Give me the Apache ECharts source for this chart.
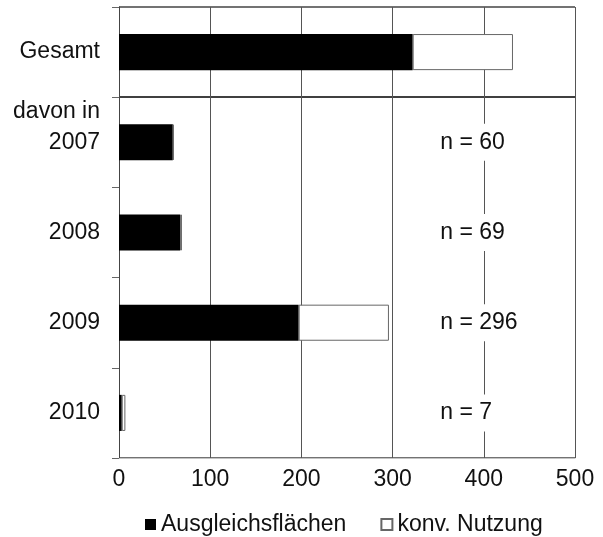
<!DOCTYPE html>
<html>
<head>
<meta charset="utf-8">
<script src="https://cdn.jsdelivr.net/npm/echarts@6/dist/echarts.min.js"></script>
<style>html,body{margin:0;padding:0;background:#fff}#c{width:603px;height:537px}</style>
</head>
<body>
<div id="c"></div>
<script>
const categories = ['Gesamt', '2007', '2008', '2009', '2010'];
const ausgleich = [322, 59, 67, 197, 3];
const konv = [110, 1, 2, 99, 4];
const nLabels = ['', 'n = 60', 'n = 69', 'n = 296', 'n = 7'];
const nLabelX = 350;
const xTicks = { min: 0, max: 500, interval: 100 };
const seriesNames = ['Ausgleichsflächen', 'konv. Nutzung'];

const FONT = 'Liberation Sans, Arial, sans-serif';
const FS = 23;
const chart = echarts.init(document.getElementById('c'), null, { renderer: 'canvas' });
chart.setOption({
  animation: false,
  backgroundColor: '#fff',
  textStyle: { fontFamily: FONT },
  grid: { left: 119, right: 28, top: 7, bottom: 79 },
  xAxis: {
    type: 'value', min: xTicks.min, max: xTicks.max, interval: xTicks.interval,
    axisLine: { show: true, lineStyle: { color: '#c4c4c4', width: 1 } },
    axisTick: { show: false },
    axisLabel: { fontSize: FS, color: '#111', margin: 10, fontFamily: FONT },
    splitLine: { show: true, lineStyle: { color: '#555', width: 1 } }
  },
  yAxis: {
    type: 'category', data: categories, inverse: true,
    axisLine: { show: true, lineStyle: { color: '#444', width: 1 } },
    axisTick: { show: true, length: 7, lineStyle: { color: '#666' } },
    axisLabel: { fontSize: FS, color: '#111', margin: 19, fontFamily: FONT },
    splitLine: { show: true, interval: function (i) { return i <= 1; },
      lineStyle: { color: ['#444', '#000'], width: 1.5 } }
  },
  legend: {
    left: 145, top: 513, padding: 0,
    itemWidth: 11, itemHeight: 11, itemGap: 34, icon: 'rect',
    textStyle: { fontSize: FS, color: '#111', fontFamily: FONT },
    data: seriesNames
  },
  graphic: [{
    type: 'text', right: 503, top: 100,
    style: { text: 'davon in', font: FS + 'px ' + FONT, fill: '#111', textAlign: 'right' }
  }],
  series: [
    { name: seriesNames[0], type: 'bar', stack: 's', barWidth: '40%', data: ausgleich,
      itemStyle: { color: '#000' } },
    { name: seriesNames[1], type: 'bar', stack: 's', barWidth: '40%', data: konv,
      itemStyle: { color: '#fff', borderColor: '#666', borderWidth: 1 } },
    { type: 'scatter', symbolSize: 0, silent: true, z: 5,
      itemStyle: { opacity: 1 },
      data: categories.map((c, i) => [nLabelX, c]),
      label: { show: true, position: 'right', distance: 0, fontSize: FS, color: '#111', fontFamily: FONT,
        backgroundColor: '#fff', padding: [7, 2],
        formatter: p => nLabels[p.dataIndex] }
    }
  ]
});
</script>
</body>
</html>
